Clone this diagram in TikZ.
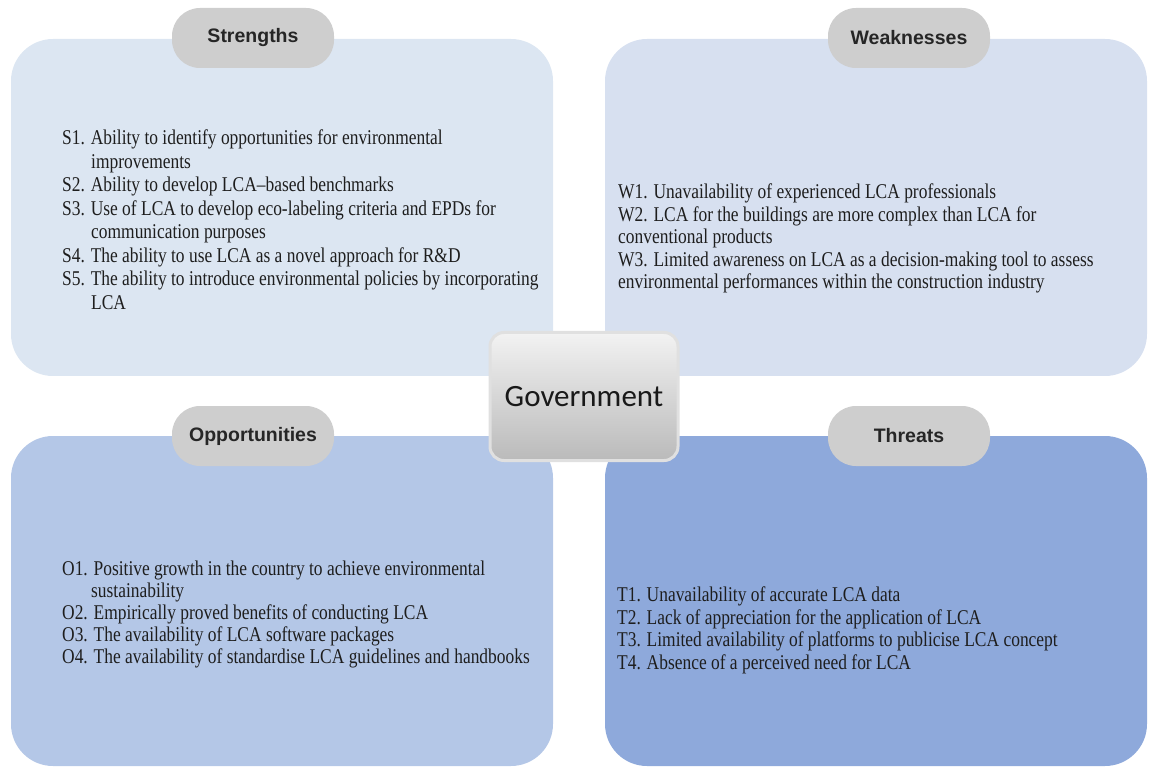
\documentclass[tikz,border=0pt]{standalone}
\usepackage{fontspec}
\setmainfont{Liberation Serif}
\newfontfamily\bodyfont[FakeStretch=0.83]{Liberation Serif}
\newfontfamily\tabfont{Liberation Sans}
\newfontfamily\govfont{Carlito}
\definecolor{sCol}{RGB}{220,230,242}
\definecolor{wCol}{RGB}{215,224,240}
\definecolor{oCol}{RGB}{180,199,231}
\definecolor{tCol}{RGB}{142,169,219}
\definecolor{tabCol}{RGB}{206,206,206}
\definecolor{txtCol}{RGB}{30,30,30}
\newcommand{\ind}{\hspace*{29pt}}
\tikzset{
  quad/.style={rectangle, rounded corners=42pt, draw=none, minimum width=542pt, inner sep=0pt},
  tab/.style={rectangle, rounded corners=28pt, fill=tabCol, draw=none, minimum width=162pt, minimum height=60pt,
    font=\tabfont\bfseries\fontsize{19.5}{22}\selectfont, text=black!85},
  body/.style={anchor=north west, align=left, inner sep=0pt, text=txtCol,
    font=\bodyfont\fontsize{21}{22.5}\selectfont},
  gov/.style={rectangle, rounded corners=14pt, minimum width=188pt, minimum height=128pt,
    top color=black!5, bottom color=black!27, draw=black!12, line width=3pt,
    font=\govfont\fontsize{31}{34}\selectfont, text=black!90}
}
\begin{document}
\begin{tikzpicture}[x=1pt,y=-1pt]
\useasboundingbox (0,0) rectangle (1149,767);
% quadrant panels
\node[quad, fill=sCol, minimum height=337pt] (S) at (282,207.5) {};
\node[quad, fill=wCol, minimum height=337pt] (W) at (876,207.5) {};
\node[quad, fill=oCol, minimum height=330pt] (O) at (282,601) {};
\node[quad, fill=tCol, minimum height=330pt] (T) at (876,601) {};
% heading tabs
\node[tab] (St) at (253,38) {Strengths};
\node[tab] (Wt) at (909,38) {Weaknesses};
\node[tab] (Ot) at (253,436) {Opportunities};
\node[tab] (Tt) at (909,436) {Threats};
% lists
\node[body, font=\bodyfont\fontsize{21}{23.5}\selectfont] (Sl) at (62,130) {S1. Ability to identify opportunities for environmental\\
\ind improvements\\
S2. Ability to develop LCA–based benchmarks\\
S3. Use of LCA to develop eco-labeling criteria and EPDs for\\
\ind communication purposes\\
S4. The ability to use LCA as a novel approach for R\&D\\
S5. The ability to introduce environmental policies by incorporating\\
\ind LCA};
\node[body] (Wl) at (618,184) {W1. Unavailability of experienced LCA professionals\\
W2. LCA for the buildings are more complex than LCA for\\
conventional products\\
W3. Limited awareness on LCA as a decision-making tool to assess\\
environmental performances within the construction industry};
\node[body, font=\bodyfont\fontsize{21}{22}\selectfont] (Ol) at (62,561) {O1. Positive growth in the country to achieve environmental\\
\ind sustainability\\
O2. Empirically proved benefits of conducting LCA\\
O3. The availability of LCA software packages\\
O4. The availability of standardise LCA guidelines and handbooks};
\node[body] (Tl) at (617,587) {T1. Unavailability of accurate LCA data\\
T2. Lack of appreciation for the application of LCA\\
T3. Limited availability of platforms to publicise LCA concept\\
T4. Absence of a perceived need for LCA};
% central node
\node[gov] (G) at (584,396.5) {\raisebox{-3pt}{Government}};
\end{tikzpicture}
\end{document}
